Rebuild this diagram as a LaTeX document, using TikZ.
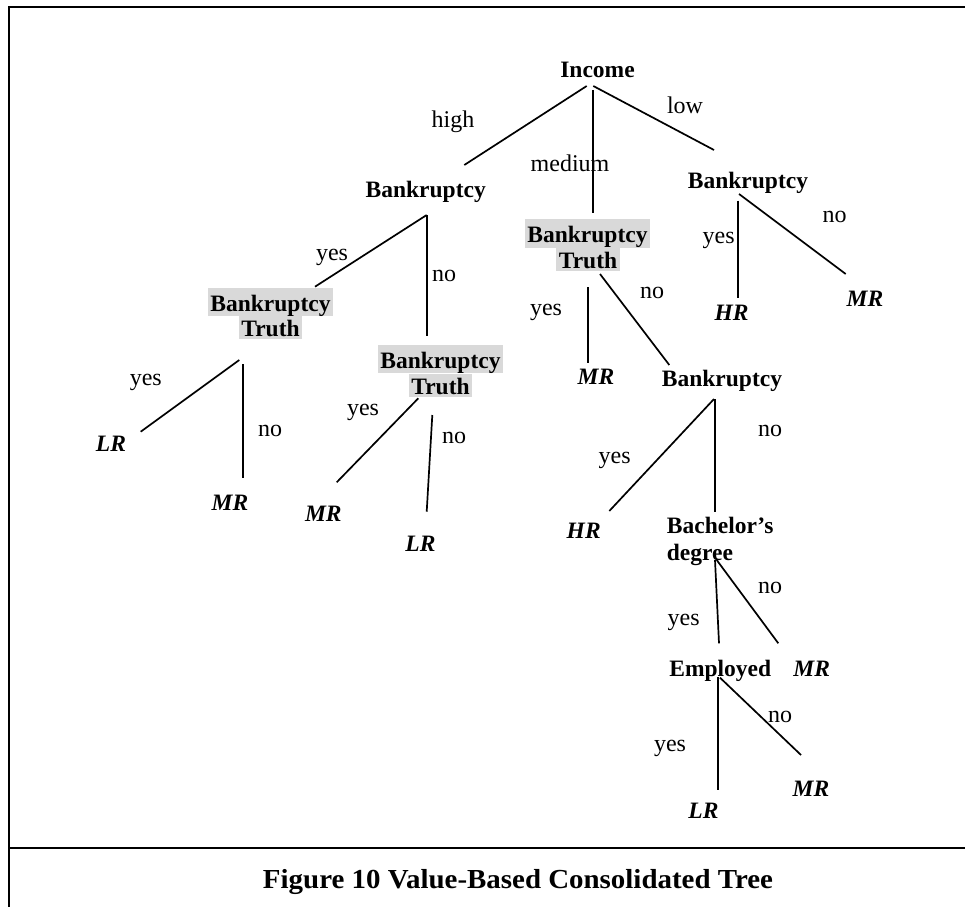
\documentclass[tikz,border=0pt]{standalone}
\usepackage{fontspec}
\setmainfont{Liberation Serif}
\definecolor{shade}{HTML}{D9D9D9}
\begin{document}
\begin{tikzpicture}[x=1pt,y=-1pt,
  attr/.style={inner sep=0pt, anchor=base, font=\fontsize{23.5}{27}\selectfont\bfseries},
  leaf/.style={inner sep=0pt, anchor=base, font=\fontsize{23.5}{27}\selectfont\bfseries\itshape},
  lbl/.style={inner sep=0pt, anchor=base, font=\fontsize{24}{27}\selectfont},
  hlA/.style={attr, fill=shade, inner xsep=2.5pt, text height=23.5pt, text depth=5pt},
  hlB/.style={attr, fill=shade, inner xsep=2.5pt, text height=20.5pt, text depth=3pt},
  branch/.style={line width=1.7pt},
  frame/.style={line width=2.4pt}]
\useasboundingbox (0,0) rectangle (965,907);

% frame and caption divider
\coordinate (tl) at (9,7);
\coordinate (tr) at (965,7);
\coordinate (bl) at (9,907);
\coordinate (dl) at (9,847.7);
\coordinate (dr) at (965,847.7);
\draw[frame] (tr) -- (tl) -- (bl);
\draw[frame] (dl) -- (dr);

% attribute nodes
\node[attr] (inc) at (597.5,77) {Income};
\node[attr] (b1) at (425.7,197) {Bankruptcy};
\node[hlB] (btm2) at (588,268) {Truth};
\node[hlA] (btm1) at (587.5,242.7) {Bankruptcy};
\node[attr] (b2) at (748,188.3) {Bankruptcy};
\node[hlB] (btl2) at (270.5,336) {Truth};
\node[hlA] (btl1) at (270.5,311) {Bankruptcy};
\node[hlB] (bt22) at (440.5,394) {Truth};
\node[hlA] (bt21) at (440.5,368.3) {Bankruptcy};
\node[attr] (b3) at (722,386.5) {Bankruptcy};
\node[attr, anchor=base west] (bach1) at (666.7,533.3) {Bachelor’s};
\node[attr, anchor=base west] (bach2) at (666.7,560.7) {degree};
\node[attr] (emp) at (720.3,676.2) {Employed};

% leaves
\node[leaf] (lr1) at (111,451.7) {LR};
\node[leaf] (mr1) at (230,510) {MR};
\node[leaf] (mr2) at (323.3,521.7) {MR};
\node[leaf] (lr2) at (420.5,551.7) {LR};
\node[leaf] (mr3) at (596,384.5) {MR};
\node[leaf] (hr1) at (731.5,320) {HR};
\node[leaf] (mr4) at (865,306.7) {MR};
\node[leaf] (hr2) at (583.7,538.3) {HR};
\node[leaf] (mr5) at (811.7,676.7) {MR};
\node[leaf] (mr6) at (811,796.7) {MR};
\node[leaf] (lr3) at (703.5,818.3) {LR};

% branch labels
\node[lbl] (lhigh) at (453,127) {high};
\node[lbl] (lmed) at (570,171) {medium};
\node[lbl] (llow) at (685,113) {low};
\node[lbl] (y1) at (332,260) {yes};
\node[lbl] (n1) at (444,281.7) {no};
\node[lbl] (y2) at (546,315) {yes};
\node[lbl] (n2) at (652,298.3) {no};
\node[lbl] (y3) at (718.7,243.3) {yes};
\node[lbl] (n3) at (834.7,222.7) {no};
\node[lbl] (y4) at (145.8,385) {yes};
\node[lbl] (n4) at (270,436.7) {no};
\node[lbl] (y5) at (363,415) {yes};
\node[lbl] (n5) at (454,443.3) {no};
\node[lbl] (y6) at (614.7,463.3) {yes};
\node[lbl] (n6) at (770,436.7) {no};
\node[lbl] (y7) at (683.7,625) {yes};
\node[lbl] (n7) at (770,593.3) {no};
\node[lbl] (y8) at (670,751.7) {yes};
\node[lbl] (n8) at (780,722.7) {no};

% branches
\draw[branch] ([shift={(-10.8,9)}]inc.base) -- ([shift={(38.6,-32)}]b1.base);
\draw[branch] ([shift={(-4.2,13)}]inc.base) -- ([shift={(5.8,-29.7)}]btm1.base);
\draw[branch] ([shift={(-4.2,9)}]inc.base) -- ([shift={(-34,-38.3)}]b2.base);

\draw[branch] ([shift={(1,18)}]b1.base) -- ([shift={(44.5,-24.3)}]btl1.base);
\draw[branch] ([shift={(1,18)}]b1.base) -- ([shift={(-13.8,-32.6)}]bt21.base);

\draw[branch] ([shift={(-0.3,19.3)}]btm2.base) -- ([shift={(-8.3,-21.2)}]mr3.base);
\draw[branch] ([shift={(12,6)}]btm2.base) -- ([shift={(-52.7,-21.5)}]b3.base);

\draw[branch] ([shift={(-10.3,12.4)}]b2.base) -- ([shift={(6.2,-21.7)}]hr1.base);
\draw[branch] ([shift={(-9,5.7)}]b2.base) -- ([shift={(-19.3,-32.7)}]mr4.base);

\draw[branch] ([shift={(-31.2,24)}]btl2.base) -- ([shift={(29.7,-20)}]lr1.base);
\draw[branch] ([shift={(-27.8,28)}]btl2.base) -- ([shift={(12.7,-31.7)}]mr1.base);

\draw[branch] ([shift={(-22.2,4.3)}]bt22.base) -- ([shift={(13.4,-39.4)}]mr2.base);
\draw[branch] ([shift={(-8.2,21)}]bt22.base) -- ([shift={(6.2,-40)}]lr2.base);

\draw[branch] ([shift={(-8,12.5)}]b3.base) -- ([shift={(25.6,-27.3)}]hr2.base);
\draw[branch] ([shift={(-7.3,12.5)}]b3.base) -- ([shift={(48,-21.6)}]bach1.base west);

\draw[branch] ([shift={(48.3,-0.7)}]bach2.base west) -- ([shift={(-1.3,-32.9)}]emp.base);
\draw[branch] ([shift={(50,-0.7)}]bach2.base west) -- ([shift={(-33.4,-33.4)}]mr5.base);

\draw[branch] ([shift={(-2,0.5)}]emp.base) -- ([shift={(14.8,-28.3)}]lr3.base);
\draw[branch] ([shift={(-0.3,1.5)}]emp.base) -- ([shift={(-10,-41.7)}]mr6.base);

% caption
\node[inner sep=0pt, anchor=base] (cap) at (518,888.3)
  {\resizebox{510pt}{\height}{\fontsize{27.5}{30}\selectfont\bfseries Figure 10 Value-Based Consolidated Tree}};
\end{tikzpicture}
\end{document}
